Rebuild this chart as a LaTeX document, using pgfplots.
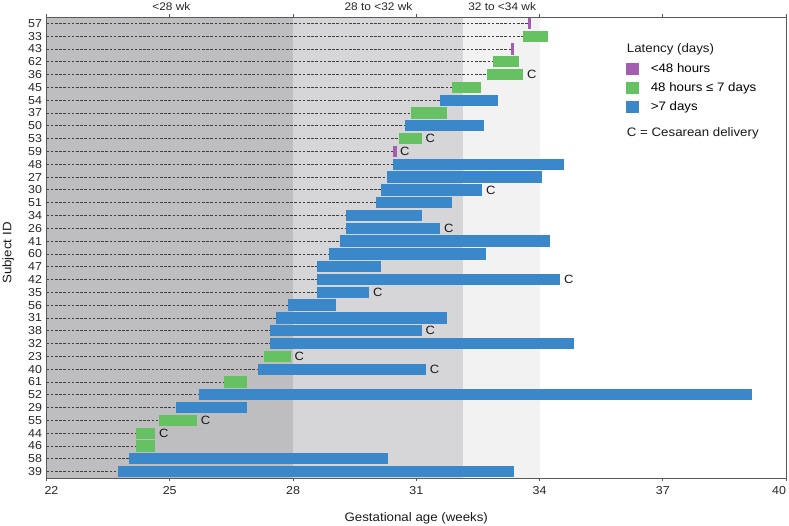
\documentclass[border=0pt]{standalone}
\usepackage{fontspec}
\setmainfont{Liberation Sans}[FakeStretch=1.08]
\usepackage{pgfplots}
\usepackage{pgfplotstable}
\pgfplotsset{compat=1.18}
\definecolor{cblue}{HTML}{3A87CA}
\definecolor{cgreen}{HTML}{66C163}
\definecolor{cpurple}{HTML}{A45EB0}
\definecolor{bgA}{HTML}{BEBEC0}
\definecolor{bgB}{HTML}{D6D6D8}
\definecolor{bgC}{HTML}{F2F2F2}
\newcommand\ticksz{\fontsize{11.5bp}{13bp}\selectfont}
\newcommand\labsz{\fontsize{12.3bp}{14bp}\selectfont}
\newcommand\topsz{\fontsize{11bp}{13bp}\selectfont}
\newcommand\csz{\fontsize{12bp}{14bp}\selectfont}

% y index: 0 = subject 39 (bottom) ... 35 = subject 57 (top)
\pgfplotstableread{
y start end
0 23.73 33.38
1 24.02 30.31
5 25.16 26.88
6 25.72 39.18
8 27.15 31.24
10 27.44 34.83
11 27.44 31.14
12 27.58 31.76
13 27.87 29.04
14 28.59 29.86
15 28.59 34.51
16 28.59 30.13
17 28.87 32.69
18 29.15 34.26
19 29.30 31.59
20 29.30 31.15
21 30.01 31.86
22 30.15 32.61
23 30.30 34.05
24 30.44 34.60
27 30.73 32.65
29 31.59 33.00
}\tblue
\pgfplotstableread{
y start end
2 24.17 24.65
3 24.17 24.65
4 24.73 25.67
7 26.31 26.89
9 27.30 27.95
26 30.59 31.14
28 30.87 31.75
30 31.88 32.58
31 32.73 33.61
32 32.88 33.49
34 33.59 34.21
}\tgreen
\pgfplotstableread{
y start end
25 30.44 30.52
33 33.31 33.39
35 33.72 33.80
}\tpurple
\pgfplotstableread{
y end
3 24.65
4 25.67
8 31.24
9 27.95
11 31.14
14 29.86
15 34.51
19 31.59
22 32.61
25 30.52
26 31.14
31 33.61
}\tces

\begin{document}
\begin{tikzpicture}
\begin{axis}[
  scale only axis, width=739.5bp, height=461bp,
  xmin=22, xmax=40, ymin=-0.5, ymax=35.5,
  clip mode=individual,
  axis on top,
  axis line style={draw=black!65, line width=0.9bp},
  xtick={22,25,28,31,34,37,40},
  xticklabels={\makebox[0pt][l]{\hspace{-2bp}22},25,28,31,34,37,\makebox[0pt][r]{40}},
  ytick={0,...,35},
  yticklabels={39,58,46,44,55,29,52,61,40,23,32,38,31,56,35,42,47,60,41,26,34,51,30,27,48,59,53,50,37,54,45,36,62,43,33,57},
  tick align=outside,
  major tick length=3bp,
  xtick style={draw=black!65, line width=0.8bp},
  ytick style={draw=none},
  xticklabel style={font=\ticksz, text=black!85, inner sep=0pt, yshift=-5.5bp},
  yticklabel style={font=\ticksz, text=black!85, inner sep=0pt, xshift=-1.3bp},
  /pgf/number format/assume math mode=true,
  xlabel={Gestational age (weeks)},
  xlabel style={at={(axis description cs:0.5,-0.0933)}, anchor=base, font=\labsz, text=black!90},
  ylabel={Subject ID},
  ylabel style={at={(axis description cs:-0.0476,0.488)}, anchor=base, font=\labsz, text=black!90},
  legend style={at={(0.7835,0.9017)}, anchor=north west, draw=none, fill=none,
    inner sep=0pt, row sep=7.2bp, column sep=12bp, font=\labsz, nodes={inner sep=0pt}},
  legend cell align=left,
]
% background bands
\addplot [forget plot, fill=bgA, draw=none] coordinates {(22,-0.5) (28,-0.5) (28,35.5) (22,35.5)};
\addplot [forget plot, fill=bgB, draw=none] coordinates {(28,-0.5) (32.14,-0.5) (32.14,35.5) (28,35.5)};
\addplot [forget plot, fill=bgC, draw=none] coordinates {(32.14,-0.5) (34,-0.5) (34,35.5) (32.14,35.5)};
% dashed leader lines
\addplot [forget plot, xcomb, draw=black!75, line width=0.8bp, dash pattern=on 2.6bp off 1.6bp] table [x=start, y=y] {\tblue};
\addplot [forget plot, xcomb, draw=black!75, line width=0.8bp, dash pattern=on 2.6bp off 1.6bp] table [x=start, y=y] {\tgreen};
\addplot [forget plot, xcomb, draw=black!75, line width=0.8bp, dash pattern=on 2.6bp off 1.6bp] table [x=start, y=y] {\tpurple};
% bars
\addplot [cpurple, line width=11.3bp, quiver={u=\thisrow{end}-\thisrow{start}, v=0},
  legend image code/.code={\path[fill=cpurple, draw=none] (0bp,-6bp) rectangle (12.7bp,6bp);}]
  table [x=start, y=y] {\tpurple};
\addlegendentry{<48 hours}
\addplot [cgreen, line width=11.3bp, quiver={u=\thisrow{end}-\thisrow{start}, v=0},
  legend image code/.code={\path[fill=cgreen, draw=none] (0bp,-6bp) rectangle (12.7bp,6bp);}]
  table [x=start, y=y] {\tgreen};
\addlegendentry{48 hours ≤ 7 days}
\addplot [cblue, line width=11.3bp, quiver={u=\thisrow{end}-\thisrow{start}, v=0},
  legend image code/.code={\path[fill=cblue, draw=none] (0bp,-6bp) rectangle (12.7bp,6bp);}]
  table [x=start, y=y] {\tblue};
\addlegendentry{>7 days}
% Cesarean markers
\addplot [forget plot, only marks, mark=text, text mark={C}, text mark as node=true,
  text mark style={font=\csz, anchor=west, inner sep=0pt, xshift=3.5bp, text=black!90}]
  table [x=end, y=y] {\tces};
% texts
\node[font=\topsz, anchor=base, text=black!85] at (axis cs:25.04,35.5) [yshift=6bp] {<28 wk};
\node[font=\topsz, anchor=base, text=black!85] at (axis cs:30.08,35.5) [yshift=6bp] {28 to <32 wk};
\node[font=\topsz, anchor=base, text=black!85] at (axis cs:33.09,35.5) [yshift=6bp] {32 to <34 wk};
\node[font=\labsz, anchor=base west, inner sep=0pt, text=black!90] at (axis description cs:0.7846,0.9226) {Latency (days)};
\node[font=\labsz, anchor=base west, inner sep=0pt, text=black!90] at (axis description cs:0.7846,0.7404) {C = Cesarean delivery};
\end{axis}
\pgfresetboundingbox
\path ([shift={(-46.5bp,-48bp)}]current axis.south west) rectangle ++(789bp,526bp);
\end{tikzpicture}
\end{document}
